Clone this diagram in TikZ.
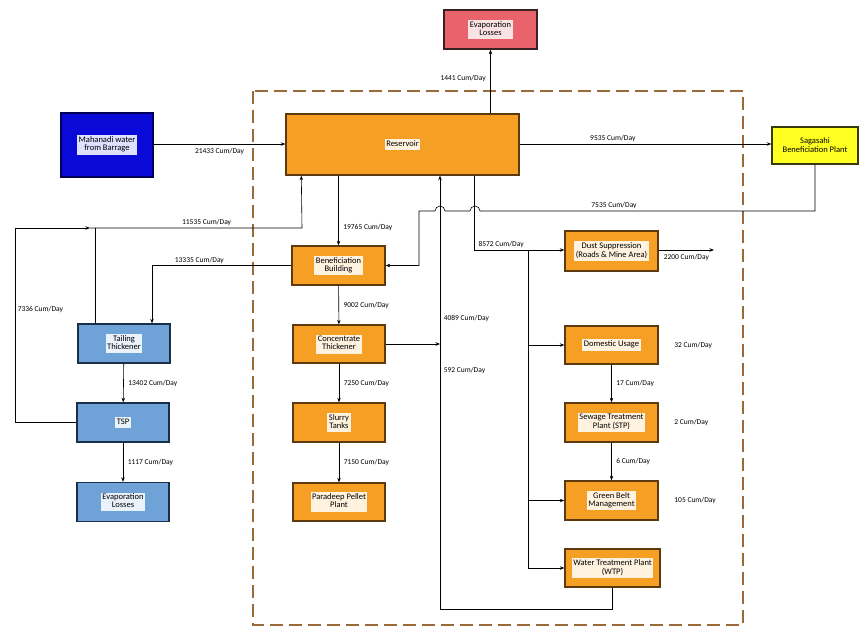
\documentclass[tikz,border=0pt]{standalone}
\usepackage{fontspec}
\setmainfont{Carlito}
\usepackage{xcolor}
\usetikzlibrary{calc,arrows.meta,positioning}

\definecolor{orfill}{HTML}{F5A024}
\definecolor{ordraw}{HTML}{5C3A0E}
\definecolor{orpane}{HTML}{FFF3E0}
\definecolor{bluefill}{HTML}{0A0AD8}
\definecolor{bluedraw}{HTML}{00005A}
\definecolor{bluepane}{HTML}{DDE0FF}
\definecolor{skyfill}{HTML}{6FA3D8}
\definecolor{skydraw}{HTML}{1A2F4A}
\definecolor{skypane}{HTML}{EAF2FB}
\definecolor{redfill}{HTML}{E8636B}
\definecolor{reddraw}{HTML}{3A2222}
\definecolor{redpane}{HTML}{FBE3E4}
\definecolor{yelfill}{HTML}{FFFF22}
\definecolor{yeldraw}{HTML}{3A3A10}
\definecolor{fence}{HTML}{9A6A3A}

% light patch behind the text of a box
\newcommand{\pane}[2]{{\setlength{\fboxsep}{1.5pt}\colorbox{#1}{\renewcommand{\arraystretch}{0.85}\begin{tabular}{@{}c@{}}#2\end{tabular}}}}

\begin{document}
\begin{tikzpicture}[x=1pt, y=-1pt, >={Stealth[length=4.5pt,width=3.5pt]},
    box/.style={line width=1.4pt, minimum width=92pt, minimum height=38pt, inner sep=0pt, font=\fontsize{8.5}{9}\selectfont},
    orbox/.style={box, fill=orfill, draw=ordraw},
    bluebox/.style={box, fill=bluefill, draw=bluedraw},
    skybox/.style={box, fill=skyfill, draw=skydraw},
    redbox/.style={box, fill=redfill, draw=reddraw},
    yelbox/.style={box, fill=yelfill, draw=yeldraw, align=center},
    flow/.style={draw, ->, line width=0.6pt},
    pipe/.style={draw, line width=0.6pt},
    qty/.style={font=\fontsize{7.5}{8}\selectfont, inner sep=1.5pt}]
    \useasboundingbox (0,0) rectangle (859,629);

    % Plant boundary
    \draw[fence, line width=2pt, dash pattern=on 13pt off 6pt] (253,91) rectangle (743,625);

    % Boxes outside the boundary
    \node[redbox, minimum width=93pt, minimum height=39pt] (evtop) at (490.5,29.5) {\pane{redpane}{Evaporation\\Losses}};
    \node[bluebox, minimum height=64pt] (mahi) at (107,145) {\pane{bluepane}{Mahanadi water\\from Barrage}};
    \node[yelbox, minimum width=86pt, minimum height=37pt] (sag) at (815,145.5) {Sagasahi\\Beneficiation Plant};

    % Reservoir and the process column
    \node[orbox, minimum width=233pt, minimum height=61pt] (res) at (402.5,144.5) {\pane{orpane}{Reservoir}};
    \node[orbox, minimum width=93pt, minimum height=39pt] (ben) at (338.5,265.5) {\pane{orpane}{Beneficiation\\Building}};
    \node[orbox] (conc) at (339,344) {\pane{orpane}{Concentrate\\Thickener}};
    \node[orbox, minimum height=39pt] (slurry) at (339,422.5) {\pane{orpane}{Slurry\\Tanks}};
    \node[orbox] (para) at (339,502) {\pane{orpane}{Paradeep Pellet\\Plant}};

    % Tailing side
    \node[skybox, minimum height=39pt] (tail) at (124,343.5) {\pane{skypane}{Tailing\\Thickener}};
    \node[skybox, minimum height=39pt] (tsp) at (123,422.5) {\pane{skypane}{TSP}};
    \node[skybox, minimum height=39pt] (evl) at (123,502) {\pane{skypane}{Evaporation\\Losses}};

    % Water users
    \node[orbox, minimum width=93pt, minimum height=40pt] (dust) at (611.5,251) {\pane{orpane}{Dust Suppression\\(Roads \& Mine Area)}};
    \node[orbox, minimum width=93pt] (dom) at (611.5,345) {\pane{orpane}{Domestic Usage}};
    \node[orbox, minimum width=93pt, minimum height=39pt] (stp) at (611.5,422.5) {\pane{orpane}{Sewage Treatment\\Plant (STP)}};
    \node[orbox, minimum width=93pt, minimum height=39pt] (gb) at (611.5,500.5) {\pane{orpane}{Green Belt\\Management}};
    \node[orbox, minimum width=95pt] (wtp) at (612.5,568) {\pane{orpane}{Water Treatment Plant\\(WTP)}};

    % Free ends and bends
    \coordinate (loopL) at (15,228);
    \coordinate (loopM) at (90,228);
    \coordinate (tailUp) at (95,228);
    \coordinate (retB) at (440,609);
    \coordinate (brT) at (528,250);
    \coordinate (dout) at (714,250);

    % Inflow, evaporation and Sagasahi
    \draw[flow] (mahi.east |- 0,144) -- node[qty, below=2pt] (qMahi) {21433 Cum/Day} (res.west |- 0,144);
    \draw[flow] (evtop.south |- res.north) -- node[qty, left=3pt, pos=0.55] (qEvtop) {1441 Cum/Day} (evtop.south);
    \draw[flow] (res.east |- 0,144) -- node[qty, above, pos=0.37] (qSag) {9535 Cum/Day} (sag.west |- 0,144);
    \draw[flow] (sag.south) -- (sag.south |- 0,211) -- node[qty, above, pos=0.6] (qBack) {7535 Cum/Day} (480,211)
        arc[start angle=0, end angle=180, radius=5pt] -- (445,211)
        arc[start angle=0, end angle=180, radius=5pt] -- (419,211) |- (ben.east);

    % Reservoir to beneficiation and concentrate line
    \draw[flow] (ben.north |- res.south) -- node[qty, right=3pt, pos=0.75] (qBen) {19765 Cum/Day} (ben.north);
    \draw[flow] (ben) -- node[qty, right=3pt] (qConc) {9002 Cum/Day} (conc);
    \draw[flow] (conc) -- node[qty, right=3pt] (qSlurry) {7250 Cum/Day} (slurry);
    \draw[flow] (slurry) -- node[qty, right=3pt] (qPara) {7150 Cum/Day} (para);

    % Tailing circuit
    \draw[flow] (ben.west) -| node[qty, above, pos=0.33] (qTail) {13335 Cum/Day} ($(tail.north)+(28,0)$);
    \draw[flow] (tail) -- node[qty, right=3pt] (qTsp) {13402 Cum/Day} (tsp);
    \draw[flow] (tsp) -- node[qty, right=3pt] (qEvl) {1117 Cum/Day} (evl);
    \draw[flow] (tsp.west) -| node[qty, right=1pt, pos=0.79] (qLoop) {7336 Cum/Day} (loopL) -- (loopM);
    \draw[flow] (loopM) -- node[qty, above, pos=0.55] (qRec) {11535 Cum/Day} (loopM -| 302,0) -- ($(res.south west)+(16,0)$);
    \draw[pipe] (tail.north -| tailUp) -- (tailUp);

    % Return line to the reservoir
    \draw[flow] (wtp.south) |- (retB) -- node[qty, right=2pt, pos=0.55] (q592) {592 Cum/Day}
        node[qty, right=2pt, pos=0.67] (q4089) {4089 Cum/Day} (retB |- res.south);
    \draw[flow] (conc.east) -- (conc.east -| retB);

    % Supply to the users
    \draw[flow] ($(res.south)+(71.5,0)$) |- node[qty, above, pos=0.65] (qUse) {8572 Cum/Day} (dust.west |- brT);
    \draw[pipe] (brT) -- (brT |- wtp);
    \draw[flow] (brT |- dom) -- (dom);
    \draw[flow] (brT |- gb) -- (gb);
    \draw[flow] (brT |- wtp) -- (wtp);
    \draw[flow] (dust.east |- dout) -- node[qty, below=2pt] (qDust) {2200 Cum/Day} (dout);
    \draw[flow] (dom) -- node[qty, right=3pt] (qDomStp) {17 Cum/Day} (stp);
    \draw[flow] (stp) -- node[qty, right=3pt] (qStpGb) {6 Cum/Day} (gb);
    \node[qty, right=14pt of dom] (qDom) {32 Cum/Day};
    \node[qty, right=14pt of stp] (qStp) {2 Cum/Day};
    \node[qty, right=14pt of gb] (qGb) {105 Cum/Day};
\end{tikzpicture}
\end{document}
